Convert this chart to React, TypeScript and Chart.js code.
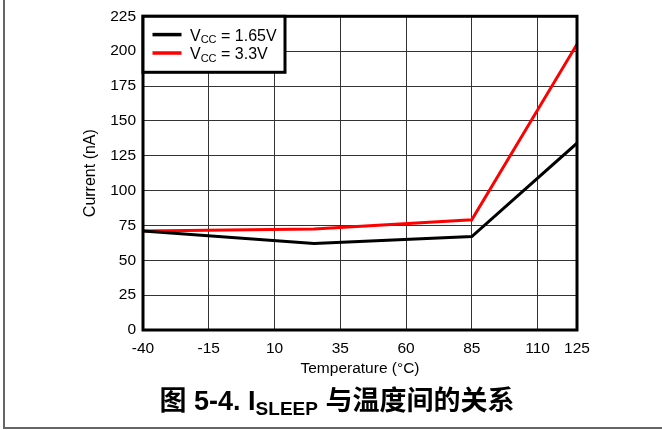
import { useEffect, useRef } from "react";
import { Chart, registerables } from "chart.js";

Chart.register(...registerables);

// Sleep current vs. temperature for two supply voltages
const temperatures = [-40, 25, 85, 125];
const currentVcc165 = [71, 62, 67, 134];
const currentVcc33 = [71, 72.5, 79, 205];

const xTickValues = [-40, -15, 10, 35, 60, 85, 110, 125];
const yTickValues = [0, 25, 50, 75, 100, 125, 150, 175, 200, 225];

const seriesVoltages = ["1.65V", "3.3V"];
const seriesColors = ["#000000", "#ff0000"];

const xAxisTitle = "Temperature (°C)";
const yAxisTitle = "Current (nA)";

const FONT = "'Liberation Sans', Arial, 'Noto Sans CJK SC', sans-serif";

type Seg = { text: string; font: string; dy: number };

function drawRich(
  ctx: CanvasRenderingContext2D,
  segs: Seg[],
  x: number,
  y: number,
  align: "left" | "center"
) {
  ctx.save();
  ctx.textAlign = "left";
  ctx.textBaseline = "alphabetic";
  const widths = segs.map((s) => {
    ctx.font = s.font;
    return ctx.measureText(s.text).width;
  });
  const total = widths.reduce((a, b) => a + b, 0);
  let cx = align === "center" ? x - total / 2 : x;
  segs.forEach((s, i) => {
    ctx.font = s.font;
    ctx.fillText(s.text, cx, y + s.dy);
    cx += widths[i];
  });
  ctx.restore();
}

const decorPlugin = {
  id: "decor",
  afterDatasetsDraw(chart: Chart) {
    const { ctx, chartArea } = chart;
    const { left, top, right, bottom } = chartArea;
    ctx.save();
    // plot frame
    ctx.strokeStyle = "#000";
    ctx.lineWidth = 3;
    ctx.strokeRect(left, top, right - left, bottom - top);

    // legend box
    const lx = left;
    const ly = top;
    const lw = 142;
    const lh = 56;
    ctx.fillStyle = "#fff";
    ctx.fillRect(lx, ly, lw, lh);
    ctx.strokeRect(lx, ly, lw, lh);

    ctx.fillStyle = "#000";
    seriesVoltages.forEach((v, i) => {
      const rowY = ly + 18.3 + i * 18.4;
      ctx.strokeStyle = seriesColors[i];
      ctx.lineWidth = 3.5;
      ctx.beginPath();
      ctx.moveTo(lx + 9.5, rowY);
      ctx.lineTo(lx + 38.5, rowY);
      ctx.stroke();
      drawRich(
        ctx,
        [
          { text: "V", font: `16px ${FONT}`, dy: 0 },
          { text: "CC", font: `11px ${FONT}`, dy: 2.5 },
          { text: ` = ${v}`, font: `16px ${FONT}`, dy: 0 },
        ],
        lx + 47,
        rowY + 6.3,
        "left"
      );
    });
    ctx.restore();
  },
  afterDraw(chart: Chart) {
    const { ctx, width } = chart;
    ctx.save();
    // page frame
    ctx.strokeStyle = "#666";
    ctx.lineWidth = 2;
    ctx.beginPath();
    ctx.moveTo(4, 0);
    ctx.lineTo(4, 428);
    ctx.lineTo(width, 428);
    ctx.stroke();

    // figure caption
    ctx.fillStyle = "#000";
    drawRich(
      ctx,
      [
        { text: "图 5-4. I", font: `bold 27px ${FONT}`, dy: 0 },
        { text: "SLEEP", font: `bold 19px ${FONT}`, dy: 5 },
        { text: " 与温度间的关系", font: `bold 27px ${FONT}`, dy: 0 },
      ],
      337,
      410,
      "center"
    );
    ctx.restore();
  },
};

export default function App() {
  const canvasRef = useRef<HTMLCanvasElement | null>(null);

  useEffect(() => {
    const canvas = canvasRef.current;
    if (!canvas) return;
    const chart = new Chart(canvas, {
      type: "line",
      data: {
        datasets: [
          {
            label: `VCC = ${seriesVoltages[0]}`,
            data: temperatures.map((t, i) => ({ x: t, y: currentVcc165[i] })),
            borderColor: seriesColors[0],
            borderWidth: 3,
            pointRadius: 0,
            tension: 0,
          },
          {
            label: `VCC = ${seriesVoltages[1]}`,
            data: temperatures.map((t, i) => ({ x: t, y: currentVcc33[i] })),
            borderColor: seriesColors[1],
            borderWidth: 3,
            pointRadius: 0,
            tension: 0,
          },
        ],
      },
      options: {
        responsive: false,
        animation: false,
        devicePixelRatio: 1,
        layout: { padding: { left: 0, right: 85, top: 16, bottom: 0 } },
        plugins: {
          legend: { display: false },
          tooltip: { enabled: false },
        },
        scales: {
          x: {
            type: "linear",
            min: -40,
            max: 125,
            afterBuildTicks: (scale: any) => {
              scale.ticks = xTickValues.map((v) => ({ value: v }));
            },
            afterFit: (scale: any) => {
              scale.height = 100;
            },
            grid: { color: "#333", lineWidth: 1, drawTicks: false },
            border: { display: false },
            ticks: {
              color: "#000",
              padding: 9,
              maxRotation: 0,
              autoSkip: false,
              font: { family: FONT, size: 15.5 },
            },
            title: {
              display: true,
              text: xAxisTitle,
              color: "#000",
              font: { family: FONT, size: 15.5 },
              padding: { top: 0, bottom: 52 },
            },
          },
          y: {
            type: "linear",
            min: 0,
            max: 225,
            afterBuildTicks: (scale: any) => {
              scale.ticks = yTickValues.map((v) => ({ value: v }));
            },
            afterFit: (scale: any) => {
              scale.width = 143;
            },
            grid: { color: "#333", lineWidth: 1, drawTicks: false },
            border: { display: false },
            ticks: {
              color: "#000",
              padding: 7,
              font: { family: FONT, size: 15.5 },
            },
            title: {
              display: true,
              text: yAxisTitle,
              color: "#000",
              font: { family: FONT, size: 16 },
              padding: { top: 81, bottom: 0 },
            },
          },
        },
      },
      plugins: [decorPlugin],
    });
    return () => chart.destroy();
  }, []);

  return (
    <div style={{ position: "absolute", left: 0, top: 0, width: 662, height: 430, background: "#fff" }}>
      <canvas ref={canvasRef} width={662} height={430} style={{ width: 662, height: 430, display: "block" }} />
    </div>
  );
}
